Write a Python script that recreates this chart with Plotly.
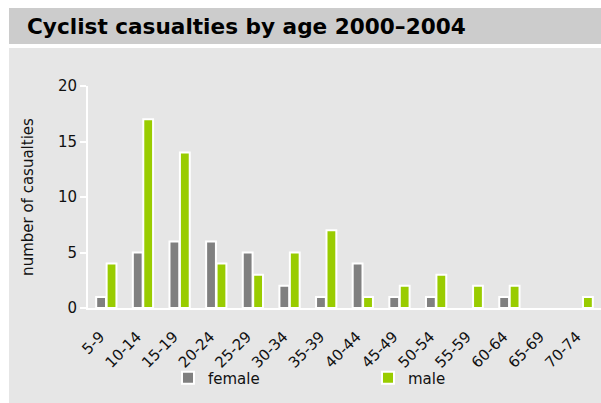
import plotly.graph_objects as go

# Age bands and casualty counts, 2000-2004
age_bands = ["5-9", "10-14", "15-19", "20-24", "25-29", "30-34", "35-39",
             "40-44", "45-49", "50-54", "55-59", "60-64", "65-69", "70-74"]
female = [1, 5, 6, 6, 5, 2, 1, 4, 1, 1, 0, 1, 0, 0]
male = [4, 17, 14, 4, 3, 5, 7, 1, 2, 3, 2, 2, 0, 1]
y_ticks = [0, 5, 10, 15, 20]

FONT = "DejaVu Sans, Verdana, sans-serif"
W, H = 601, 403
L, T, B = 88, 86, 95
plot_w = W - L
plot_h = H - T - B


def px_x(px):
    return (px - L) / plot_w


def px_y(py):
    return (H - B - py) / plot_h


def outline(values):
    # no outline on empty bars, so they leave no stub on the axis
    return [2 if v else 0 for v in values]


fig = go.Figure()
fig.add_trace(go.Bar(
    x=age_bands, y=female, name="female",
    marker=dict(color="#808080", line=dict(color="white", width=outline(female))),
))
fig.add_trace(go.Bar(
    x=age_bands, y=male, name="male",
    marker=dict(color="#99cc00", line=dict(color="white", width=outline(male))),
))

shapes = [
    # title band
    dict(type="rect", xref="paper", yref="paper", layer="below",
         x0=px_x(9), x1=px_x(W + 2), y0=px_y(44), y1=px_y(8),
         fillcolor="#cccccc", line=dict(width=0)),
    # chart panel
    dict(type="rect", xref="paper", yref="paper", layer="below",
         x0=px_x(9), x1=px_x(W + 2), y0=px_y(H + 2), y1=px_y(48),
         fillcolor="#e6e6e6", line=dict(width=0)),
]

fig.update_layout(
    width=W, height=H,
    margin=dict(l=L, r=0, t=T, b=B, pad=0),
    paper_bgcolor="white",
    plot_bgcolor="rgba(0,0,0,0)",
    font=dict(family=FONT, size=15, color="#111111"),
    barmode="group",
    bargap=0.43,
    bargroupgap=0.06,
    shapes=shapes,
    annotations=[dict(
        text="<b>Cyclist casualties by age 2000\u20132004</b>",
        xref="paper", yref="paper", x=px_x(25), y=px_y(26),
        xanchor="left", yanchor="middle", showarrow=False,
        font=dict(family=FONT, size=21.6, color="#000000"),
    )],
    legend=dict(
        orientation="h", x=px_x(168), y=px_y(378),
        xanchor="left", yanchor="middle",
        entrywidth=155, entrywidthmode="pixels",
        bgcolor="rgba(0,0,0,0)",
        font=dict(family=FONT, size=15, color="#111111"),
    ),
    xaxis=dict(
        type="category", range=[-0.5, len(age_bands) - 0.5],
        showline=True, linecolor="white", linewidth=2,
        showgrid=False, ticks="", tickangle=-45,
        ticklabelstandoff=12, ticklabelshift=-6,
        tickfont=dict(family=FONT, size=15, color="#111111"),
        zeroline=False,
    ),
    yaxis=dict(
        range=[0, 20], tickvals=y_ticks,
        showline=True, linecolor="white", linewidth=2,
        showgrid=False, zeroline=False,
        ticks="outside", tickcolor="white", ticklen=6, tickwidth=2,
        tickfont=dict(family=FONT, size=15, color="#111111"),
        title=dict(text="number of casualties", standoff=21,
                   font=dict(family=FONT, size=15, color="#111111")),
    ),
)

fig.write_html("out.html")
